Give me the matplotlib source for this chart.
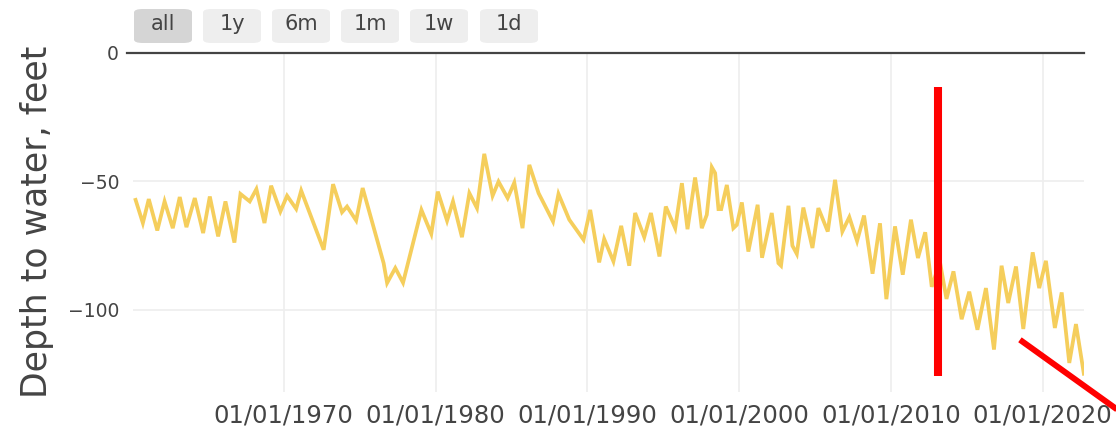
import matplotlib
matplotlib.use('Agg')
import matplotlib.pyplot as plt
from matplotlib.patches import FancyBboxPatch

# Semiannual depth-to-water readings (decimal year, feet below surface)
years = [
    1960.24, 1960.72, 1961.11, 1961.67, 1962.15, 1962.69, 1963.15, 1963.59,
    1964.14, 1964.69, 1965.13, 1965.68, 1966.16, 1966.75, 1967.15, 1967.76,
    1968.20, 1968.73, 1969.17, 1969.78, 1970.22, 1970.82, 1971.15, 1972.63,
    1973.25, 1973.84, 1974.17, 1974.77, 1975.20, 1976.58, 1976.81, 1977.35,
    1977.86, 1979.07, 1979.72, 1980.15, 1980.76, 1981.15, 1981.74, 1982.23,
    1982.73, 1983.21, 1983.76, 1984.15, 1984.75, 1985.19, 1985.73, 1986.18,
    1986.79, 1987.74, 1988.10, 1988.81, 1989.75, 1990.19, 1990.78, 1991.11,
    1991.72, 1992.23, 1992.76, 1993.15, 1993.75, 1994.19, 1994.75, 1995.17,
    1995.79, 1996.23, 1996.60, 1997.10, 1997.32, 1997.54, 1997.87, 1998.20,
    1998.42, 1998.64, 1998.82, 1999.19, 1999.62, 1999.85, 2000.18, 2000.61,
    2001.22, 2001.51, 2002.15, 2002.59, 2002.76, 2003.25, 2003.51, 2003.80,
    2004.23, 2004.83, 2005.22, 2005.84, 2006.32, 2006.80, 2007.26, 2007.77,
    2008.23, 2008.79, 2009.28, 2009.70, 2010.27, 2010.78, 2011.32, 2011.78,
    2012.26, 2012.69, 2013.23, 2013.66, 2014.12, 2014.66, 2015.16, 2015.70,
    2016.26, 2016.79, 2017.29, 2017.73, 2018.24, 2018.72, 2019.34, 2019.77,
    2020.21, 2020.80, 2021.25, 2021.75, 2022.19, 2022.71,
]
depth = [
    -57.3, -66.3, -57.0, -69.2, -57.9, -68.3, -56.2, -67.9,
    -56.6, -70.2, -56.0, -71.5, -57.9, -73.9, -55.0, -57.9,
    -53.1, -66.3, -51.8, -61.8, -55.7, -60.8, -53.7, -76.7,
    -51.2, -62.1, -59.9, -65.3, -52.7, -81.9, -89.6, -83.8,
    -89.5, -61.2, -70.5, -54.1, -65.4, -57.9, -71.8, -54.7,
    -60.5, -39.4, -55.7, -50.2, -56.6, -50.6, -68.3, -43.7,
    -54.7, -65.7, -55.0, -65.0, -72.8, -61.2, -81.6, -72.5,
    -81.2, -67.4, -82.9, -62.4, -71.8, -62.4, -79.3, -59.9,
    -68.3, -50.8, -68.7, -48.6, -57.3, -68.3, -63.1, -44.6,
    -46.9, -60.9, -60.9, -51.5, -68.3, -67.0, -58.3, -77.4,
    -59.2, -79.8, -62.4, -81.9, -82.9, -59.6, -75.1, -78.3,
    -60.3, -76.0, -60.5, -69.6, -49.5, -69.6, -64.0, -73.3,
    -63.4, -86.0, -66.4, -95.9, -67.6, -86.4, -65.0, -79.9,
    -69.9, -91.1, -81.4, -95.8, -85.1, -103.7, -93.0, -107.8,
    -91.6, -115.5, -82.9, -97.4, -83.2, -107.5, -77.7, -91.6,
    -81.0, -107.1, -93.3, -120.7, -105.6, -124.9,
]
# Hand-drawn red annotation strokes
markX = [2013.08, 2013.08]
markY = [-13.4, -125.6]
slashX = [2018.50, 2025.80]
slashY = [-111.7, -142.6]

xTicks = [1970, 1980, 1990, 2000, 2010, 2020]
yTicks = [-100, -50, 0]
buttons = ['all', '1y', '6m', '1m', '1w', '1d']

W, H = 1116, 429
fig = plt.figure(figsize=(W / 100, H / 100), dpi=100)
ax = fig.add_axes([133 / W, 1 - 392 / H, (1084 - 133) / W, (392 - 52.5) / H])

ax.plot(years, depth, color='#F5CE5C', lw=2.7, solid_joinstyle='miter', zorder=3)
ax.plot(markX, markY, color='#FF0000', lw=5.8, solid_capstyle='butt',
        clip_on=False, zorder=5)
ax.plot(slashX, slashY, color='#FF0000', lw=4.3, solid_capstyle='butt',
        clip_on=False, zorder=5)

ax.set_xlim(1960.07, 2022.72)
ax.set_ylim(-132, 0)
ax.set_xticks(xTicks)
ax.set_xticklabels([f'01/01/{y}' for y in xTicks])
ax.set_yticks(yTicks)
ax.grid(True, color='#EEEEEE', lw=1.2, zorder=0)
# zero line reaches a little past the left edge, up to the "0" label
ax.plot([1959.67, 2022.72], [0, 0], color='#444444', lw=1.6, zorder=4,
        clip_on=False)
for s in ax.spines.values():
    s.set_visible(False)
ax.tick_params(axis='both', length=0, colors='#444444')
ax.tick_params(axis='x', pad=8, labelsize=17.5)
ax.tick_params(axis='y', pad=10, labelsize=13.5)
ax.set_ylabel('Depth to water, feet', fontsize=25, color='#444444', labelpad=10)

# Range selector buttons ------------------------------------------------------
btnX = [134, 203, 272, 341, 410, 480]
for (lbl, bx) in zip(buttons, btnX):
    face = '#D5D5D5' if lbl == 'all' else '#EEEEEE'
    fig.patches.append(FancyBboxPatch(
        (bx / W, 1 - 43 / H), 58 / W, 34 / H,
        boxstyle='round,pad=0,rounding_size=0.008',
        transform=fig.transFigure, facecolor=face, edgecolor='none'
    ))
    fig.text((bx + 29) / W, 1 - 24 / H, lbl, ha='center', va='center',
             fontsize=15, color='#444444')

plt.savefig('out.png', dpi=100)
